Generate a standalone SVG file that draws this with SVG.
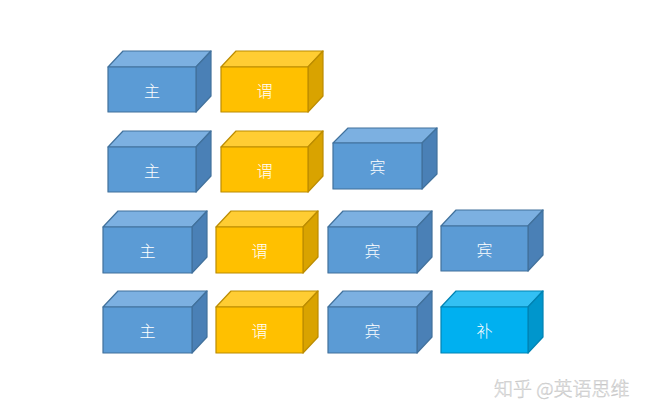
<svg xmlns="http://www.w3.org/2000/svg" width="653" height="419" viewBox="0 0 653 419">
<style>
.f,.t,.s{stroke-width:1.2;stroke-linejoin:round}
.b .f{fill:#5B9BD5;stroke:#41719C}
.b .t{fill:#7CB0E1;stroke:#41719C}
.b .s{fill:#4A80B6;stroke:#41719C}
.y .f{fill:#FFC000;stroke:#BC8C00}
.y .t{fill:#FFCD33;stroke:#BC8C00}
.y .s{fill:#D9A300;stroke:#BC8C00}
.c .f{fill:#00B0F0;stroke:#0083B3}
.c .t{fill:#33C0F3;stroke:#0083B3}
.c .s{fill:#0096CC;stroke:#0083B3}
.lbl{font-family:"Noto Sans CJK SC","Noto Sans",sans-serif;font-size:16px;font-weight:300;fill:#FFFFFF;text-anchor:middle;dominant-baseline:central}
.wm{font-family:"Noto Sans CJK SC","Noto Sans",sans-serif;font-size:19px;font-weight:300;fill:#F0F0F0;stroke:#BDBDBD;stroke-width:0.4}
</style>
<rect width="653" height="419" fill="#FFFFFF"/>
<g id="connectors"></g>
<!-- Row 1 -->
<g id="r1-zhu" class="b">
<polygon class="t" points="108,67 123,51 211,51 196,67"/>
<polygon class="s" points="196,67 211,51 211,96 196,112"/>
<rect class="f" x="108" y="67" width="88" height="45"/>
<text class="lbl" x="152" y="89.5">主</text>
</g>
<g id="r1-wei" class="y">
<polygon class="t" points="221,67 236,51 323,51 308,67"/>
<polygon class="s" points="308,67 323,51 323,96 308,112"/>
<rect class="f" x="221" y="67" width="87" height="45"/>
<text class="lbl" x="264.5" y="89.5">谓</text>
</g>
<!-- Row 2 -->
<g id="r2-zhu" class="b">
<polygon class="t" points="108,147 123,131 211,131 196,147"/>
<polygon class="s" points="196,147 211,131 211,176 196,192"/>
<rect class="f" x="108" y="147" width="88" height="45"/>
<text class="lbl" x="152" y="169.5">主</text>
</g>
<g id="r2-wei" class="y">
<polygon class="t" points="221,147 236,131 323,131 308,147"/>
<polygon class="s" points="308,147 323,131 323,176 308,192"/>
<rect class="f" x="221" y="147" width="87" height="45"/>
<text class="lbl" x="264.5" y="169.5">谓</text>
</g>
<g id="r2-bin" class="b">
<polygon class="t" points="333,143 348,128 437,128 422,143"/>
<polygon class="s" points="422,143 437,128 437,174 422,189"/>
<rect class="f" x="333" y="143" width="89" height="46"/>
<text class="lbl" x="377.5" y="166">宾</text>
</g>
<!-- Row 3 -->
<g id="r3-zhu" class="b">
<polygon class="t" points="103,227 118,211 207,211 192,227"/>
<polygon class="s" points="192,227 207,211 207,257 192,273"/>
<rect class="f" x="103" y="227" width="89" height="46"/>
<text class="lbl" x="147.5" y="250">主</text>
</g>
<g id="r3-wei" class="y">
<polygon class="t" points="216,227 231,211 318,211 303,227"/>
<polygon class="s" points="303,227 318,211 318,257 303,273"/>
<rect class="f" x="216" y="227" width="87" height="46"/>
<text class="lbl" x="259.5" y="250">谓</text>
</g>
<g id="r3-bin1" class="b">
<polygon class="t" points="328,227 343,211 432,211 417,227"/>
<polygon class="s" points="417,227 432,211 432,257 417,273"/>
<rect class="f" x="328" y="227" width="89" height="46"/>
<text class="lbl" x="372.5" y="250">宾</text>
</g>
<g id="r3-bin2" class="b">
<polygon class="t" points="441,226 456,210 543,210 528,226"/>
<polygon class="s" points="528,226 543,210 543,255 528,271"/>
<rect class="f" x="441" y="226" width="87" height="45"/>
<text class="lbl" x="484.5" y="248.5">宾</text>
</g>
<!-- Row 4 -->
<g id="r4-zhu" class="b">
<polygon class="t" points="103,307 118,291 207,291 192,307"/>
<polygon class="s" points="192,307 207,291 207,337 192,353"/>
<rect class="f" x="103" y="307" width="89" height="46"/>
<text class="lbl" x="147.5" y="330">主</text>
</g>
<g id="r4-wei" class="y">
<polygon class="t" points="216,307 231,291 318,291 303,307"/>
<polygon class="s" points="303,307 318,291 318,337 303,353"/>
<rect class="f" x="216" y="307" width="87" height="46"/>
<text class="lbl" x="259.5" y="330">谓</text>
</g>
<g id="r4-bin" class="b">
<polygon class="t" points="328,307 343,291 432,291 417,307"/>
<polygon class="s" points="417,307 432,291 432,337 417,353"/>
<rect class="f" x="328" y="307" width="89" height="46"/>
<text class="lbl" x="372.5" y="330">宾</text>
</g>
<g id="r4-bu" class="c">
<polygon class="t" points="441,307 456,291 543,291 528,307"/>
<polygon class="s" points="528,307 543,291 543,337 528,353"/>
<rect class="f" x="441" y="307" width="87" height="46"/>
<text class="lbl" x="484.5" y="330">补</text>
</g>
<text class="wm" x="494" y="396">知乎 @英语思维</text>
</svg>
